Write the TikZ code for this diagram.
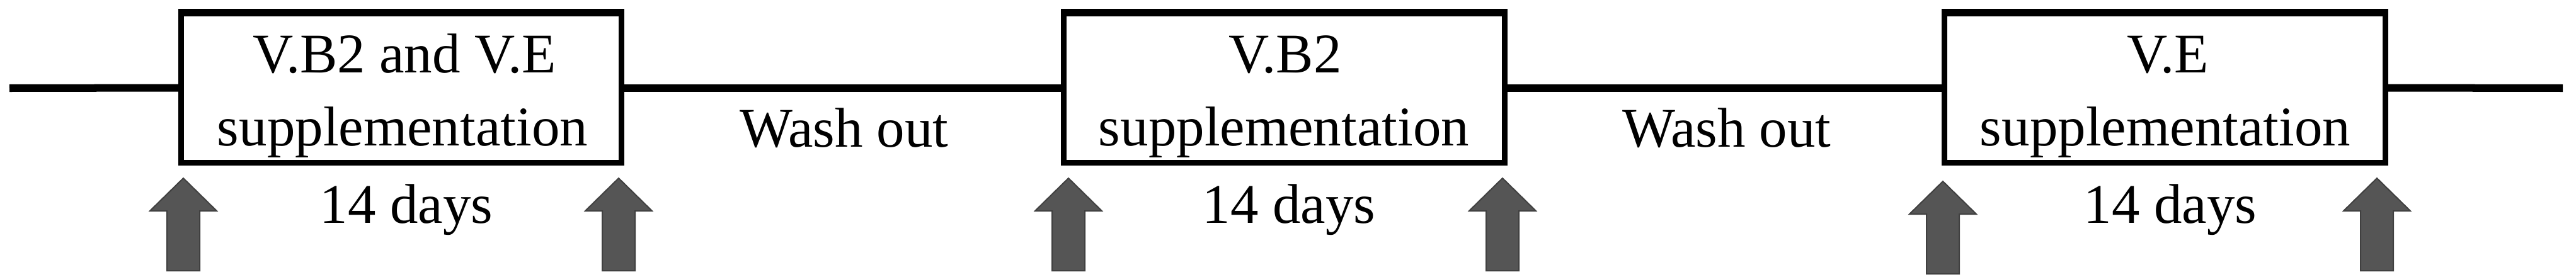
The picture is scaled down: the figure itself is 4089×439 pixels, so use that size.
\documentclass[tikz,border=0pt]{standalone}
\usepackage{fontspec}
\setmainfont{Liberation Serif}
\definecolor{arrowgrey}{HTML}{555555}
\definecolor{arrowedge}{HTML}{404040}
\begin{document}
\begin{tikzpicture}[x=0.01cm,y=-0.01cm,
  box/.style={draw=black, line width=0.09cm, fill=white, minimum width=6.99cm, minimum height=2.37cm, inner sep=0pt},
  topedge/.style={line width=0.12cm},
  txt/.style={inner sep=0pt, anchor=base, font=\fontsize{25.3}{30}\selectfont},
  tl/.style={line width=0.12cm},
  uparrow/.style={fill=arrowgrey, draw=arrowedge, line width=0.02cm, line join=miter}]
\useasboundingbox (0,0) rectangle (4089,439);
\coordinate (s) at (15,140);
\coordinate (e) at (4068,140);
\node[box] (b1) at (637,139.5) {};
\node[box] (b2) at (2038.5,139.5) {};
\node[box] (b3) at (3436.5,139.5) {};
\foreach \b in {b1,b2,b3}{
  \draw[topedge] ([yshift=-0.04cm]\b.north west) -- ([yshift=-0.04cm]\b.north east);
}
\draw[tl] (s) -- (b1.west);
\draw[tl] (b1.east) -- (b2.west);
\draw[tl] (b2.east) -- (b3.west);
\draw[tl] (b3.east) -- (e);
% box texts
\node[txt] (t1a) at (642,115) {V.B2 and V.E};
\node[txt] (t1b) at (639,231) {supplementation};
\node[txt] (t2a) at (2040,115) {V.B2};
\node[txt] (t2b) at (2038,231) {supplementation};
\node[txt] (t3a) at (3441,115) {V.E};
\node[txt] (t3b) at (3437,231) {supplementation};
% durations
\node[txt] (d1) at (645,354) {14 days};
\node[txt] (d2) at (2046,354) {14 days};
\node[txt] (d3) at (3445,354) {14 days};
% wash out
\node[txt] (w1) at (1340,233) {Wash out};
\node[txt] (w2) at (2741,233) {Wash out};
% sampling arrows
\foreach \x/\d in {291/0, 982/0, 1696/0, 2385/0, 3084/5, 3773/0}{
  \path[uparrow] (\x,283+\d) -- (\x+53,335+\d) -- (\x+26,335+\d) -- (\x+26,430+\d)
    -- (\x-26,430+\d) -- (\x-26,335+\d) -- (\x-53,335+\d) -- cycle;
}
\end{tikzpicture}
\end{document}
